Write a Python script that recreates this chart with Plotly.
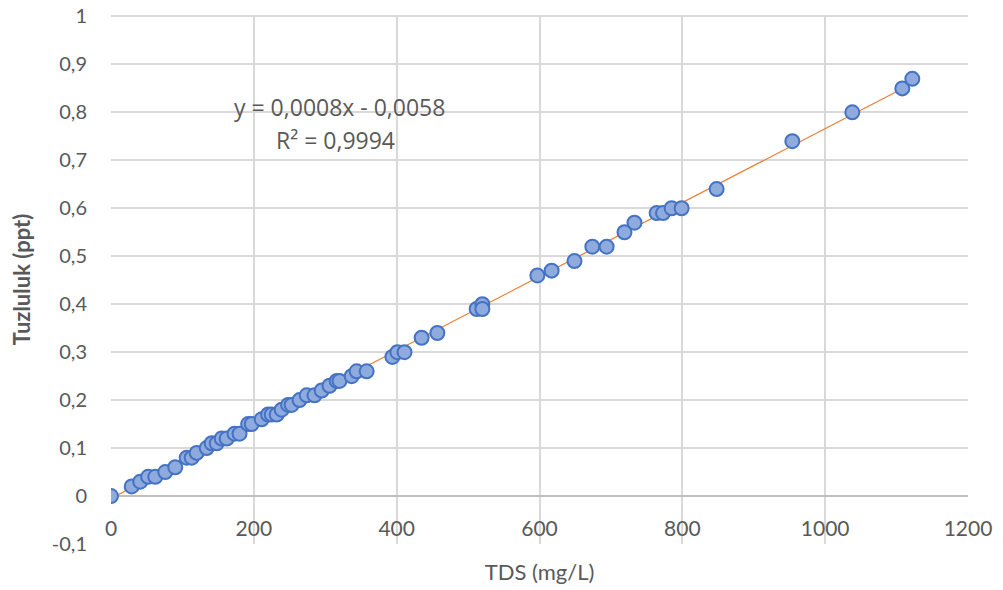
import numpy as np
import plotly.graph_objects as go

# Data
tds = [0, 29, 41, 52, 62, 76, 90, 106, 113, 120, 134, 141, 148, 155, 162, 173, 180,
       192, 197, 211, 220, 225, 232, 239, 248, 253, 264, 274, 285, 295, 306, 316, 320,
       337, 344, 358, 394, 401, 411, 435, 457, 512, 520, 520, 597, 617, 649, 674, 694,
       719, 733, 764, 773, 785, 799, 848, 954, 1038, 1108, 1122]
salinity = [0.00, 0.02, 0.03, 0.04, 0.04, 0.05, 0.06, 0.08, 0.08, 0.09, 0.10, 0.11, 0.11,
            0.12, 0.12, 0.13, 0.13, 0.15, 0.15, 0.16, 0.17, 0.17, 0.17, 0.18, 0.19, 0.19,
            0.20, 0.21, 0.21, 0.22, 0.23, 0.24, 0.24, 0.25, 0.26, 0.26, 0.29, 0.30, 0.30,
            0.33, 0.34, 0.39, 0.40, 0.39, 0.46, 0.47, 0.49, 0.52, 0.52, 0.55, 0.57, 0.59,
            0.59, 0.60, 0.60, 0.64, 0.74, 0.80, 0.85, 0.87]

x_ticks = [0, 200, 400, 600, 800, 1000, 1200]
x_tick_labels = ["0", "200", "400", "600", "800", "1000", "1200"]
y_ticks = [-0.1, 0, 0.1, 0.2, 0.3, 0.4, 0.5, 0.6, 0.7, 0.8, 0.9, 1.0]
y_tick_labels = ["-0,1", "0", "0,1", "0,2", "0,3", "0,4", "0,5", "0,6", "0,7", "0,8", "0,9", "1"]

equation_text = "y = 0,0008x - 0,0058"
r2_text = "R² = 0,9994"

# Linear trendline fitted from the data
slope, intercept = np.polyfit(tds, salinity, 1)
trend_x = [min(tds), max(tds)]
trend_y = [slope * v + intercept for v in trend_x]

TEXT = "#595959"
GRID = "#d9d9d9"

fig = go.Figure()
fig.add_trace(go.Scatter(
    x=trend_x, y=trend_y, mode="lines",
    line=dict(color="#ed7d31", width=1.2), hoverinfo="skip", showlegend=False))
fig.add_trace(go.Scatter(
    x=tds, y=salinity, mode="markers",
    marker=dict(size=14, color="#8faadc", line=dict(color="#4472c4", width=2)),
    showlegend=False))

fig.add_annotation(x=320, y=0.812, xref="x", yref="y", text=equation_text, showarrow=False,
                   font=dict(family="Open Sans", size=23, color=TEXT))
fig.add_annotation(x=315, y=0.743, xref="x", yref="y", text=r2_text, showarrow=False,
                   font=dict(family="Open Sans", size=23, color=TEXT))

fig.update_layout(
    width=1003, height=590,
    margin=dict(l=111, r=35, t=15, b=46),
    paper_bgcolor="white", plot_bgcolor="white",
    font=dict(family="Lato", color=TEXT),
)
fig.update_xaxes(
    range=[0, 1200], tickvals=x_ticks, ticktext=x_tick_labels,
    showgrid=True, gridcolor=GRID, gridwidth=2,
    showline=False, zeroline=False, automargin=False,
    ticklabelposition="outside", ticklabelstandoff=-30,
    tickfont=dict(family="Liberation Sans Narrow, Lato", size=21, color=TEXT),
    title=dict(text="TDS (mg/L)", font=dict(family="Lato", size=22, color=TEXT), standoff=25),
)
fig.update_yaxes(
    range=[-0.1, 1.003], tickvals=y_ticks, ticktext=y_tick_labels,
    showgrid=True, gridcolor=GRID, gridwidth=2,
    zeroline=True, zerolinecolor="#bfbfbf", zerolinewidth=2,
    showline=False, ticklabelstandoff=23, automargin=False,
    tickfont=dict(family="Lato", size=20, color=TEXT),
    title=dict(text="<b>Tuzluluk (ppt)</b>", font=dict(family="Lato", size=22, color=TEXT), standoff=15),
)

fig.write_html("out.html", config={"displayModeBar": False},
               post_script="document.body.style.margin='0';")
